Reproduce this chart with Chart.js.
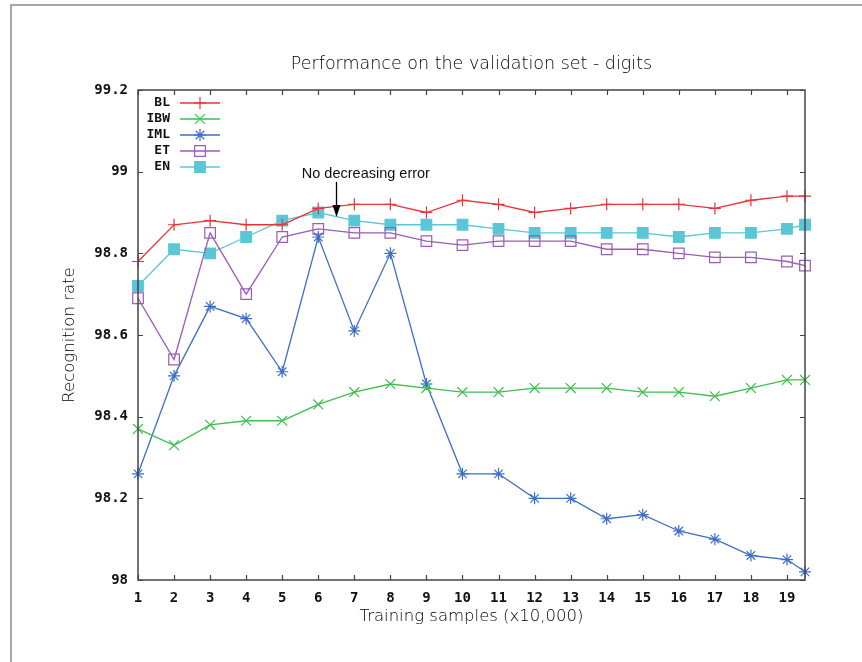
<!DOCTYPE html>
<html>
<head>
<meta charset="utf-8">
<title>Performance on the validation set - digits</title>
<script src="https://cdn.jsdelivr.net/npm/chart.js@4.4.1/dist/chart.umd.min.js"></script>
<style>
  html, body { margin: 0; padding: 0; background: #fff; }
  #wrap { width: 862px; height: 662px; }
</style>
</head>
<body>
<div id="wrap"><canvas id="grafico" width="862" height="662"></canvas></div>
<script>
// training samples (x10,000) at which each run was evaluated
const samples = [1, 2, 3, 4, 5, 6, 7, 8, 9, 10, 11, 12, 13, 14, 15, 16, 17, 18, 19, 19.5];

// recognition rate per run
const bl  = [98.78, 98.87, 98.88, 98.87, 98.87, 98.91, 98.92, 98.92, 98.90, 98.93,
             98.92, 98.90, 98.91, 98.92, 98.92, 98.92, 98.91, 98.93, 98.94, 98.94];
const ibw = [98.37, 98.33, 98.38, 98.39, 98.39, 98.43, 98.46, 98.48, 98.47, 98.46,
             98.46, 98.47, 98.47, 98.47, 98.46, 98.46, 98.45, 98.47, 98.49, 98.49];
const iml = [98.26, 98.50, 98.67, 98.64, 98.51, 98.84, 98.61, 98.80, 98.48, 98.26,
             98.26, 98.20, 98.20, 98.15, 98.16, 98.12, 98.10, 98.06, 98.05, 98.02];
const et  = [98.69, 98.54, 98.85, 98.70, 98.84, 98.86, 98.85, 98.85, 98.83, 98.82,
             98.83, 98.83, 98.83, 98.81, 98.81, 98.80, 98.79, 98.79, 98.78, 98.77];
const en  = [98.72, 98.81, 98.80, 98.84, 98.88, 98.90, 98.88, 98.87, 98.87, 98.87,
             98.86, 98.85, 98.85, 98.85, 98.85, 98.84, 98.85, 98.85, 98.86, 98.87];

const seriesNames = ["BL", "IBW", "IML", "ET", "EN"];
const xTicks = [1, 2, 3, 4, 5, 6, 7, 8, 9, 10, 11, 12, 13, 14, 15, 16, 17, 18, 19];
const yTicks = [98, 98.2, 98.4, 98.6, 98.8, 99, 99.2];

const chartTitle = "Performance on the validation set - digits";

// annotation: label and arrow (data units)
const noteText = "No decreasing error";
const noteTextX = 7.32, noteTextY = 98.995;
const noteArrowX = 6.5, noteArrowFrom = 98.975, noteArrowTo = 98.889;

const monoFont = { family: "'DejaVu Sans Mono', monospace", size: 14, weight: "bold" };
const sansFont = "'DejaVu Sans', sans-serif";

function puntos(vals) {
    return samples.map((s, i) => ({ x: s, y: vals[i] }));
}

function serie(label, vals, color, style, radius, fill) {
    return {
        label: label,
        data: puntos(vals),
        borderColor: color,
        backgroundColor: fill,
        borderWidth: 1.3,
        pointStyle: style,
        pointRadius: radius,
        pointHoverRadius: radius,
        pointBorderColor: color,
        pointBackgroundColor: fill,
        pointBorderWidth: 1.2,
        tension: 0,
        clip: false
    };
}

// border, inward ticks, title, key and arrow label drawn like the old gnuplot look
const marcoPlugin = {
    id: "marco",
    beforeDraw(chart) {
        const ctx = chart.ctx;
        ctx.save();
        ctx.fillStyle = "#fff";
        ctx.fillRect(0, 0, chart.width, chart.height);
        ctx.strokeStyle = "#8a8a8a";
        ctx.lineWidth = 1.5;
        ctx.beginPath();
        ctx.moveTo(11, chart.height);
        ctx.lineTo(11, 5);
        ctx.lineTo(chart.width, 5);
        ctx.stroke();
        ctx.restore();
    },
    afterDatasetsDraw(chart) {
        const ctx = chart.ctx;
        const a = chart.chartArea;
        const xs = chart.scales.x, ys = chart.scales.y;
        ctx.save();

        // title, centred over the plot
        ctx.fillStyle = "#000";
        ctx.font = "200 17.5px " + sansFont;
        ctx.textAlign = "center";
        ctx.textBaseline = "middle";
        ctx.fillText(chartTitle, (a.left + a.right) / 2, a.top - 26);

        // plot border
        ctx.strokeStyle = "#444";
        ctx.lineWidth = 1.5;
        ctx.strokeRect(a.left, a.top, a.right - a.left, a.bottom - a.top);

        // inward ticks on all four sides
        const tl = 5;
        ctx.lineWidth = 1.2;
        ctx.beginPath();
        xTicks.forEach(v => {
            const px = Math.round(xs.getPixelForValue(v)) + 0.5;
            ctx.moveTo(px, a.bottom); ctx.lineTo(px, a.bottom - tl);
            ctx.moveTo(px, a.top);    ctx.lineTo(px, a.top + tl);
        });
        yTicks.forEach(v => {
            const py = Math.round(ys.getPixelForValue(v)) + 0.5;
            ctx.moveTo(a.left, py);  ctx.lineTo(a.left + tl, py);
            ctx.moveTo(a.right, py); ctx.lineTo(a.right - tl, py);
        });
        ctx.stroke();

        // key
        ctx.font = "bold 13px 'DejaVu Sans Mono', monospace";
        ctx.textAlign = "right";
        chart.data.datasets.forEach((ds, i) => {
            const y = a.top + 13 + i * 16;
            ctx.fillStyle = "#111";
            ctx.fillText(ds.label, a.left + 32, y);
            ctx.strokeStyle = ds.borderColor;
            ctx.lineWidth = ds.borderWidth;
            ctx.beginPath();
            ctx.moveTo(a.left + 42, y);
            ctx.lineTo(a.left + 82, y);
            ctx.stroke();
            ctx.fillStyle = ds.pointBackgroundColor;
            ctx.lineWidth = ds.pointBorderWidth;
            Chart.helpers.drawPoint(ctx, {
                pointStyle: ds.pointStyle,
                radius: ds.pointRadius,
                borderWidth: ds.pointBorderWidth,
                rotation: 0
            }, a.left + 62, y);
        });

        // label with arrow
        ctx.fillStyle = "#111";
        ctx.font = "14.5px 'Liberation Sans', Arial, sans-serif";
        ctx.textAlign = "center";
        ctx.fillText(noteText, xs.getPixelForValue(noteTextX), ys.getPixelForValue(noteTextY));
        const ax = Math.round(xs.getPixelForValue(noteArrowX)) + 0.5;
        const y0 = ys.getPixelForValue(noteArrowFrom);
        const y1 = ys.getPixelForValue(noteArrowTo);
        ctx.strokeStyle = "#000";
        ctx.lineWidth = 1.3;
        ctx.beginPath();
        ctx.moveTo(ax, y0);
        ctx.lineTo(ax, y1 - 10);
        ctx.stroke();
        ctx.fillStyle = "#000";
        ctx.beginPath();
        ctx.moveTo(ax - 4, y1 - 12);
        ctx.lineTo(ax + 4, y1 - 12);
        ctx.lineTo(ax, y1);
        ctx.closePath();
        ctx.fill();

        ctx.restore();
    }
};

const ctx = document.getElementById("grafico").getContext("2d");

new Chart(ctx, {
    type: "line",
    data: {
        datasets: [
            serie(seriesNames[0], bl,  "#e8343a", "cross",    6, "#e8343a"),
            serie(seriesNames[1], ibw, "#3cbf50", "crossRot", 7, "#3cbf50"),
            serie(seriesNames[2], iml, "#3d6fc6", "star",     6, "#3d6fc6"),
            serie(seriesNames[3], et,  "#9b5cb4", "rect",     7.5, "rgba(0,0,0,0)"),
            serie(seriesNames[4], en,  "#5ac6d6", "rect",     7.5, "#5ac6d6")
        ]
    },
    options: {
        responsive: false,
        devicePixelRatio: 1,
        animation: false,
        events: [],
        layout: { padding: { top: 90, right: 57, bottom: 0, left: 0 } },
        plugins: {
            legend: { display: false },
            tooltip: { enabled: false },
            title: { display: false }
        },
        scales: {
            x: {
                type: "linear",
                min: 1,
                max: 19.5,
                grid: { display: false },
                border: { display: false },
                afterFit(scale) { scale.height = 82; },
                afterBuildTicks(scale) { scale.ticks = xTicks.map(v => ({ value: v })); },
                ticks: {
                    autoSkip: false,
                    maxRotation: 0,
                    padding: 2,
                    color: "#111",
                    font: monoFont,
                    callback: v => String(v)
                },
                title: {
                    display: true,
                    text: "Training samples (x10,000)",
                    color: "#000",
                    font: { family: sansFont, size: 16.5, weight: "200" },
                    padding: { top: 0, bottom: 35 }
                }
            },
            y: {
                min: 98,
                max: 99.2,
                grid: { display: false },
                border: { display: false },
                afterFit(scale) { scale.width = 138; },
                afterBuildTicks(scale) { scale.ticks = yTicks.map(v => ({ value: v })); },
                ticks: {
                    padding: 2,
                    color: "#111",
                    font: monoFont,
                    callback: v => String(+v.toFixed(1))
                },
                title: {
                    display: true,
                    text: "Recognition rate",
                    color: "#000",
                    font: { family: sansFont, size: 16.5, weight: "200" },
                    padding: { top: 60, bottom: 0 }
                }
            }
        }
    },
    plugins: [marcoPlugin]
});
</script>
</body>
</html>
